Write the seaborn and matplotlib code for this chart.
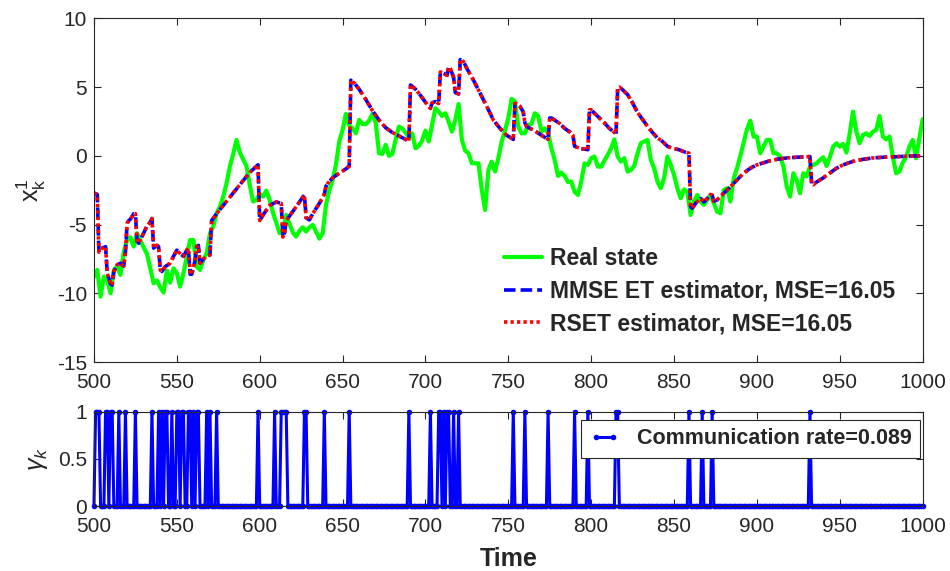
import numpy as np
import matplotlib
matplotlib.use("Agg")
import matplotlib.pyplot as plt
import seaborn as sns

# ---------------------------------------------------------------- data
# true state x_k^1, sampled every 2 steps over k = 500..1000
state_time = np.arange(500, 1001, 2)
real_state = [
    -8.78, -8.29, -10.23, -8.77, -9.0, -9.98, -8.29, -8.05, -8.65, -6.96,
    -6.11, -5.92, -6.59, -5.62, -6.16, -6.64, -7.13, -8.17, -9.26, -9.06,
    -9.55, -9.93, -8.34, -9.21, -8.17, -8.53, -9.5, -8.53, -7.32, -6.11,
    -6.11, -8.05, -8.29, -7.56, -7.08, -5.62, -5.14, -4.17, -3.69, -2.96,
    -1.99, -0.78, 0.14, 1.16, 0.24, -0.25, -0.73, -2.11, -3.32, -3.2,
    -2.77, -2.96, -2.52, -3.2, -4.12, -4.85, -5.62, -5.5, -4.29, -4.95,
    -5.57, -5.87, -5.43, -5.19, -5.5, -5.19, -5.02, -5.5, -6.01, -5.62,
    -3.56, -2.52, -1.75, -0.66, 1.04, 1.88, 3.05, 2.22, 2.0, 1.64,
    2.61, 2.32, 2.3, 2.56, 3.05, 2.42, 0.19, 0.14, 0.8, 0.0,
    0.14, 1.16, 2.13, 2.0, 1.69, 1.35, 1.64, 0.55, 0.72, 1.11,
    1.84, 1.04, 2.25, 3.46, 3.22, 2.9, 3.1, 2.49, 1.76, 2.61,
    3.77, 1.16, 0.38, 0.19, -0.54, -0.54, -0.54, -2.47, -3.93, -1.02,
    -0.42, -1.14, -0.17, 1.04, 1.84, 2.73, 4.14, 3.94, 2.13, 1.64,
    1.64, 2.25, 2.32, 3.1, 2.9, 1.76, 2.0, 1.69, 0.55, -0.3,
    -1.46, -1.22, -1.46, -1.9, -1.87, -2.6, -2.84, -1.87, -0.54, -0.66,
    -0.17, -0.05, -0.78, -0.78, -0.34, 0.07, 0.55, 1.2, -0.05, -0.42,
    -0.17, -1.14, -1.02, -0.73, 0.19, 0.92, 1.04, 1.16, -0.3, -0.9,
    -1.87, -2.35, -1.63, -0.05, -0.66, -1.38, -2.35, -3.08, -2.43, -2.6,
    -4.29, -3.32, -2.84, -3.32, -3.56, -3.2, -2.84, -3.45, -4.05, -4.17,
    -2.48, -2.35, -3.32, -1.63, -0.9, 0.0, 0.97, 1.93, 2.56, 1.4,
    1.4, 0.19, 0.67, 1.16, 1.16, 0.19, 0.19, -0.05, -0.78, -2.23,
    -2.96, -1.26, -1.75, -2.72, -1.26, -1.5, -0.78, -0.66, -0.54, -0.3,
    -0.1, -0.73, -0.1, 0.67, 0.92, 0.67, 0.87, 0.24, 1.64, 3.22,
    1.76, 0.92, 1.52, 1.64, 1.45, 1.76, 1.88, 2.9, 1.4, 1.2,
    1.4, -0.05, -1.26, -1.14, -0.49, -0.1, 0.67, 1.16, -0.17, 1.28,
    2.66,
]

# event-triggered estimate (knots of the piecewise estimate trajectory)
est_time = [
    500, 502, 503, 505, 507, 508, 510, 511, 512, 514, 516, 518, 519, 520,
    521, 522, 524, 525, 526, 527, 528, 530, 532, 534, 535, 536, 538, 539,
    540, 541, 543, 546, 548, 550, 552, 554, 556, 557, 558, 559, 561, 562,
    563, 564, 566, 568, 570, 571, 574, 578, 582, 586, 590, 594, 599, 600,
    602, 606, 610, 613, 614, 615, 616, 619, 622, 626, 627, 628, 630, 632,
    636, 639, 640, 641, 644, 648, 652, 654, 655, 657, 660, 664, 668, 672,
    676, 680, 684, 688, 690, 691, 694, 697, 700, 703, 704, 706, 708, 709,
    711, 713, 714, 715, 717, 718, 720, 721, 723, 725, 729, 733, 737, 741,
    745, 749, 753, 754, 755, 757, 759, 760, 761, 763, 765, 770, 774, 775,
    776, 778, 781, 784, 787, 789, 790, 793, 798, 799, 800, 802, 805, 808,
    811, 815, 816, 817, 819, 822, 825, 828, 831, 834, 837, 840, 843, 846,
    849, 853, 856, 859, 860, 861, 863, 866, 867, 868, 870, 872, 873, 874,
    876, 878, 881, 884, 888, 892, 896, 900, 904, 908, 912, 918, 924, 932,
    933, 934, 936, 940, 944, 948, 952, 958, 964, 970, 976, 986, 994, 1000,
]
mmse_est = [
    -2.7, -2.8, -7.0, -6.7, -6.6, -8.5, -9.3, -9.4, -8.4, -7.9, -7.8, -8.0, -7.0, -4.9,
    -4.7, -4.6, -4.2, -4.2, -6.2, -6.35, -6.1, -5.6, -5.1, -4.8, -4.55, -6.7, -6.5, -6.6,
    -8.3, -8.4, -8.05, -7.8, -7.3, -6.85, -7.1, -7.3, -6.85, -6.7, -8.6, -8.6, -7.6, -6.6,
    -6.5, -7.8, -7.5, -7.3, -7.2, -4.7, -4.2, -3.6, -3.0, -2.4, -1.8, -1.2, -0.65, -4.7,
    -4.3, -3.6, -3.35, -3.45, -5.9, -5.6, -4.7, -4.2, -3.7, -3.0, -2.85, -4.5, -4.65, -4.2,
    -3.45, -2.8, -2.2, -2.0, -1.6, -1.25, -0.95, -0.75, 5.5, 5.3, 4.85, 4.1, 3.3, 2.6,
    2.05, 1.7, 1.45, 1.2, 1.05, 5.15, 4.85, 4.4, 3.9, 3.45, 3.85, 3.95, 3.8, 6.1,
    6.0, 5.85, 6.45, 6.35, 5.7, 4.6, 4.5, 7.0, 6.85, 6.35, 5.5, 4.55, 3.6, 2.6,
    2.0, 1.5, 1.2, 3.8, 3.8, 3.6, 3.2, 2.4, 2.15, 2.0, 1.9, 1.5, 1.2, 2.75,
    2.75, 2.6, 2.35, 2.0, 1.75, 1.5, 0.7, 0.55, 0.45, 3.35, 3.35, 3.1, 2.75, 2.4,
    2.0, 1.6, 4.95, 5.0, 4.8, 4.45, 3.85, 3.15, 2.65, 2.15, 1.7, 1.3, 1.05, 0.7,
    0.55, 0.45, 0.3, 0.2, -3.7, -3.8, -3.45, -3.1, -3.2, -3.35, -3.1, -2.8, -2.85, -3.3,
    -3.2, -2.95, -2.6, -2.25, -1.75, -1.25, -0.9, -0.65, -0.5, -0.35, -0.25, -0.15, -0.1, -0.05,
    -2.0, -2.1, -1.9, -1.6, -1.25, -0.9, -0.65, -0.4, -0.25, -0.15, -0.1, -0.05, 0.0, 0.0,
]
# the RSET estimate coincides with the MMSE ET estimate on this run
rset_est = list(mmse_est)

# time steps at which the sensor transmitted (gamma_k = 1)
gamma_time = np.arange(500, 1001)
tx_events = [
    501, 502, 503, 507, 508, 510, 511, 515, 519, 525, 535, 539, 541, 543, 544,
    547, 550, 551, 553, 554, 557, 558, 560, 562, 563, 568, 570, 574, 599, 609,
    613, 614, 615, 616, 627, 628, 639, 654, 690, 703, 708, 709, 711, 713, 714,
    717, 720, 753, 760, 774, 790, 798, 815, 816, 859, 867, 873, 932,
]
gamma = np.isin(gamma_time, tx_events).astype(float)

x_ticks = list(range(500, 1001, 50))
y1_ticks = [-15, -10, -5, 0, 5, 10]
y2_ticks = [0, 0.5, 1]

# ---------------------------------------------------------------- style
sns.set_theme(style="ticks")
plt.rcParams['font.family'] = ['Liberation Sans', 'DejaVu Sans']
plt.rcParams['axes.unicode_minus'] = False
plt.rcParams['mathtext.fontset'] = 'custom'
plt.rcParams['mathtext.rm'] = 'Liberation Sans'
plt.rcParams['mathtext.it'] = 'Liberation Sans:italic'
dark = '#262626'

fig = plt.figure(figsize=(9.5, 5.71), dpi=100)
ax1 = fig.add_axes([0.0989, 0.3655, 0.8723, 0.6025])
ax2 = fig.add_axes([0.0989, 0.1138, 0.8723, 0.1652])

# ---------------------------------------------------------------- top panel
sns.lineplot(x=state_time, y=real_state, ax=ax1, color='#00ff00', linewidth=3.0,
             label='Real state', estimator=None, sort=False)
sns.lineplot(x=est_time, y=mmse_est, ax=ax1, color='#0000ff', linewidth=2.6,
             linestyle=(0, (3.2, 1.4)), label='MMSE ET estimator, MSE=16.05',
             estimator=None, sort=False)
sns.lineplot(x=est_time, y=rset_est, ax=ax1, color='#ff0000', linewidth=2.6,
             linestyle=(0, (0.9, 0.9)), label='RSET estimator, MSE=16.05',
             estimator=None, sort=False)

ax1.set_xlim(500, 1000)
ax1.set_ylim(-15, 10)
ax1.set_xticks(x_ticks)
ax1.set_yticks(y1_ticks)
ax1.set_ylabel(r'$\mathregular{x_k^1}$', fontsize=18, color=dark, labelpad=6)
ax1.set_xlabel('')
leg1 = ax1.legend(loc='lower right', bbox_to_anchor=(0.978, 0.052), frameon=False,
                  prop={'weight': 'bold', 'size': 16.5}, handlelength=1.65,
                  handletextpad=0.35, labelspacing=0.42, borderaxespad=0)

# ---------------------------------------------------------------- bottom panel
sns.lineplot(x=gamma_time, y=gamma, ax=ax2, color='#0000ff', linewidth=2.2,
             marker='o', markersize=4, markeredgewidth=0, clip_on=False,
             label='Communication rate=0.089', estimator=None, sort=False)
ax2.set_xlim(500, 1000)
ax2.set_ylim(0, 1)
ax2.set_xticks(x_ticks)
ax2.set_yticks(y2_ticks)
ax2.set_yticklabels(['0', '0.5', '1'])
ax2.set_ylabel(r'$\gamma_k$', fontsize=18, color=dark, labelpad=6)
ax2.set_xlabel('Time', fontsize=18, fontweight='bold', color=dark, labelpad=8)
leg2 = ax2.legend(loc='upper right', bbox_to_anchor=(0.997, 0.915), frameon=True,
                  fancybox=False, framealpha=1, edgecolor=dark,
                  prop={'weight': 'bold', 'size': 15.5}, handlelength=1.4,
                  handletextpad=0.8, borderpad=0.4, borderaxespad=0, numpoints=2)
leg2.get_frame().set_linewidth(0.8)

for ax in (ax1, ax2):
    ax.tick_params(direction='in', top=True, right=True, length=5, width=0.8,
                   colors=dark, labelsize=15)
    ax.tick_params(axis='x', pad=8)
    ax.tick_params(axis='y', pad=5)
    for sp in ax.spines.values():
        sp.set_color(dark)
        sp.set_linewidth(0.8)
    ax.set_facecolor('white')

fig.savefig('out.png', dpi=100, facecolor='white')
